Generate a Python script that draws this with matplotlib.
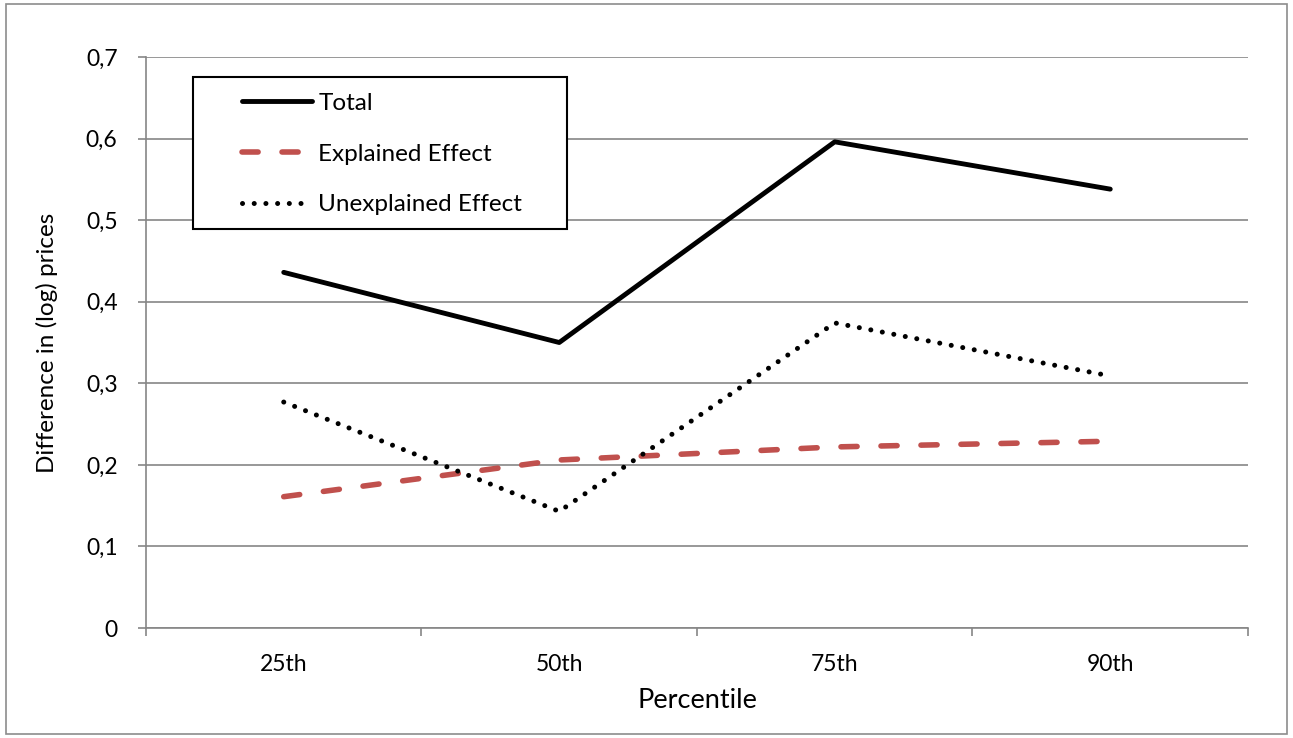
import matplotlib
matplotlib.use("Agg")
from matplotlib import pyplot as plt
from matplotlib.patches import Rectangle
from matplotlib.ticker import FuncFormatter, FixedLocator
import numpy as np

plt.rcParams['font.family'] = ['Lato', 'DejaVu Sans']

percentiles = ['25th', '50th', '75th', '90th']
total = [0.436, 0.350, 0.596, 0.538]
explained = [0.161, 0.206, 0.222, 0.229]
unexplained = [0.277, 0.143, 0.374, 0.309]

fig = plt.figure(figsize=(12.93, 7.38), dpi=100)
ax = fig.add_axes([0.1129, 0.149, 0.8523, 0.7738])

# figure border
fig.patches.append(Rectangle((0.005, 0.006), 0.99, 0.988, transform=fig.transFigure,
                             fill=False, edgecolor='#8c8c8c', linewidth=1.2))

x = np.arange(len(percentiles))
ax.plot(x, total, color='black', lw=3.5, label='Total', solid_capstyle='round')
ax.plot(x, explained, color='#C0504D', lw=4.0, dashes=(2.9, 4.3), dash_capstyle='round',
        label='Explained Effect')
ax.plot(x, unexplained, color='black', lw=3.6, dashes=(0.01, 2.33), dash_capstyle='round',
        label='Unexplained Effect')

ax.set_xlim(-0.5, 3.5)
ax.set_ylim(0, 0.7)
ax.set_yticks(np.arange(0, 0.71, 0.1))
ax.yaxis.set_major_formatter(FuncFormatter(lambda v, p: '0' if abs(v) < 1e-9 else ('%.1f' % v).replace('.', ',')))
ax.set_xticks(x)
ax.set_xticklabels(percentiles)
ax.xaxis.set_minor_locator(FixedLocator(np.arange(-0.5, 3.6, 1)))
ax.tick_params(axis='x', which='major', length=0, labelsize=16.5, pad=19)
ax.tick_params(axis='x', which='minor', length=5.5, color='#868686', width=1.2, direction='out')
ax.tick_params(axis='y', length=5.5, color='#868686', width=1.2, labelsize=16.5, pad=15)

ax.grid(axis='y', color='#868686', lw=1.2)
ax.set_axisbelow(True)
for s in ['top', 'right']:
    ax.spines[s].set_visible(False)
for s in ['left', 'bottom']:
    ax.spines[s].set_color('#868686')
    ax.spines[s].set_linewidth(1.2)

ax.set_xlabel('Percentile', fontsize=19.5, labelpad=9)
ax.set_ylabel('Difference in (log) prices', fontsize=17.5, labelpad=20)

# legend box drawn separately (Excel style has a wide left margin)
ax.add_patch(Rectangle((0.0426, 0.699), 0.3394, 0.266, transform=ax.transAxes,
                       fill=True, facecolor='white', edgecolor='black', lw=1.5, zorder=5))
leg = ax.legend(loc='upper left', bbox_to_anchor=(0.087, 0.937), fontsize=17.5,
                frameon=False, handlelength=2.9, borderpad=0, labelspacing=1.22,
                handletextpad=0.25, borderaxespad=0)
leg.set_zorder(6)

fig.savefig('out.png', dpi=100)
